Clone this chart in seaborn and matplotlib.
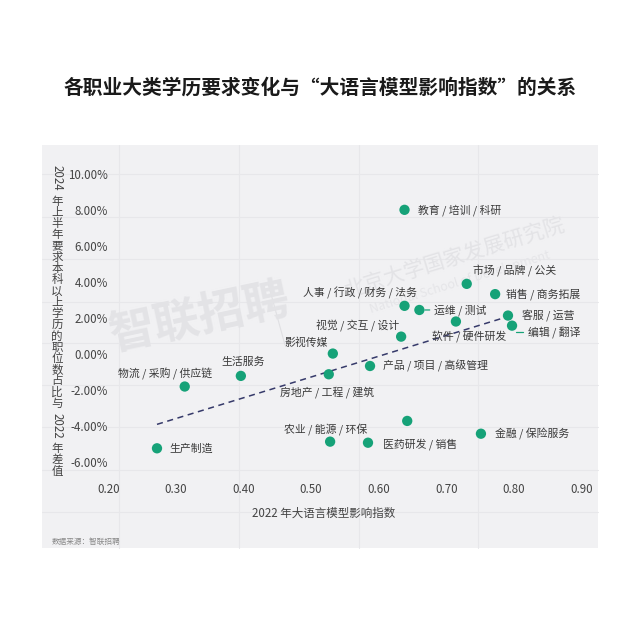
import numpy as np
import pandas as pd
import seaborn as sns
import matplotlib.pyplot as plt
from matplotlib.patches import Rectangle
from matplotlib.lines import Line2D
from matplotlib.ticker import FuncFormatter

# occupation categories, LLM impact index (2022) and change in degree share (pct points)
occupations = ["教育 / 培训 / 科研", "市场 / 品牌 / 公关", "销售 / 商务拓展", "人事 / 行政 / 财务 / 法务",
               "运维 / 测试", "软件 / 硬件研发", "客服 / 运营", "编辑 / 翻译", "视觉 / 交互 / 设计",
               "影视传媒", "房地产 / 工程 / 建筑", "产品 / 项目 / 高级管理", "生活服务", "物流 / 采购 / 供应链",
               "生产制造", "农业 / 能源 / 环保", "医药研发 / 销售", "", "金融 / 保险服务"]
llm_index = [0.638, 0.730, 0.772, 0.638, 0.660, 0.714, 0.791, 0.797, 0.633,
             0.532, 0.526, 0.587, 0.396, 0.313, 0.272, 0.528, 0.584, 0.642, 0.751]
degree_change = [8.00, 3.89, 3.32, 2.67, 2.44, 1.80, 2.13, 1.57, 0.96,
                 0.02, -1.13, -0.67, -1.22, -1.81, -5.24, -4.87, -4.93, -3.72, -4.43]
x_ticks = [0.2, 0.3, 0.4, 0.5, 0.6, 0.7, 0.8, 0.9]
y_ticks = [-6, -4, -2, 0, 2, 4, 6, 8, 10]

df = pd.DataFrame({"job": occupations, "x": llm_index, "y": degree_change})

# label placement: (dx px, dy px up, ha, connector)
label_pos = {
    "教育 / 培训 / 科研": (13, 0, "left", None),
    "市场 / 品牌 / 公关": (6, 13, "left", None),
    "销售 / 商务拓展": (11, 0, "left", None),
    "人事 / 行政 / 财务 / 法务": (12, 13, "right", None),
    "运维 / 测试": (15, 0, "left", "line"),
    "软件 / 硬件研发": (13, -15, "center", None),
    "客服 / 运营": (14, 0, "left", None),
    "编辑 / 翻译": (16, -6, "left", "elbow"),
    "视觉 / 交互 / 设计": (-2, 11, "right", None),
    "影视传媒": (-5, 11, "right", None),
    "房地产 / 工程 / 建筑": (-2, -18, "center", None),
    "产品 / 项目 / 高级管理": (13, 0, "left", None),
    "生活服务": (2, 14, "center", None),
    "物流 / 采购 / 供应链": (27, 13, "right", None),
    "生产制造": (12, 0, "left", None),
    "农业 / 能源 / 环保": (-4, 13, "center", None),
    "医药研发 / 销售": (15, -1, "left", None),
    "金融 / 保险服务": (14, 0, "left", None),
}

sns.set_theme(style="white")
plt.rcParams["font.family"] = ["Noto Sans CJK SC", "DejaVu Sans"]

green = "#16a278"
panel = "#f1f1f3"
W, H = 640, 640

fig = plt.figure(figsize=(6.4, 6.4), dpi=100)
fig.patch.set_facecolor("white")

def fx(px):
    return px / W

def fy(py):
    return 1 - py / H

# grey panel with faint background grid
fig.patches.append(Rectangle((fx(42), fy(548)), fx(598) - fx(42), fy(145) - fy(548),
                             transform=fig.transFigure, facecolor=panel, edgecolor="none", zorder=0))
for gx in [119, 239, 359, 478]:
    fig.lines.append(Line2D([fx(gx), fx(gx)], [fy(145), fy(548)], transform=fig.transFigure,
                            color="#e7e7ea", lw=0.8, zorder=0.5))
for gy in [174, 217, 259, 302, 343, 385, 427, 470, 512]:
    fig.lines.append(Line2D([fx(42), fx(598)], [fy(gy), fy(gy)], transform=fig.transFigure,
                            color="#e7e7ea", lw=0.8, zorder=0.5))

# watermarks
fig.text(fx(200), fy(318), "智联招聘", fontsize=33, fontweight="bold", color="#e3e3e6",
         rotation=12, ha="center", va="center", zorder=0.6)
fig.lines.append(Line2D([fx(268), fx(285)], [fy(283), fy(345)], transform=fig.transFigure,
                        color="#e0e0e3", lw=0.8, zorder=0.6))
fig.text(fx(455), fy(258), "北京大学国家发展研究院", fontsize=15, color="#e3e3e6",
         rotation=17, ha="center", va="center", zorder=0.6)
fig.text(fx(460), fy(282), "National School of Development", fontsize=9, color="#e5e5e8",
         rotation=17, ha="center", va="center", zorder=0.6)

ax = fig.add_axes([fx(108.3), fy(472.8), fx(581.7) - fx(108.3), fy(163) - fy(472.8)])
ax.set_facecolor("none")
ax.set_zorder(2)

sns.regplot(data=df, x="x", y="y", scatter=False, ci=None, truncate=True, ax=ax,
            line_kws=dict(color="#363a6a", lw=1.1, ls=(0, (4, 3))))
sns.scatterplot(data=df, x="x", y="y", color=green, s=55, edgecolor="none", ax=ax, zorder=3)

for _, r in df.iterrows():
    if r["job"] not in label_pos:
        continue
    dx, dy, ha, conn = label_pos[r["job"]]
    arrow = None
    if conn == "line":
        arrow = dict(arrowstyle="-", color=green, lw=0.9, shrinkA=1, shrinkB=4)
    elif conn == "elbow":
        arrow = dict(arrowstyle="-", color=green, lw=0.9, shrinkA=1, shrinkB=5,
                     connectionstyle="angle,angleA=0,angleB=90,rad=0")
    ax.annotate(r["job"], (r["x"], r["y"]), xytext=(dx, dy), textcoords="offset pixels",
                ha=ha, va="center", fontsize=7.8, color="#3a3a3a", arrowprops=arrow, zorder=4)

ax.set_xlim(0.2, 0.9)
ax.set_ylim(-6.6, 10.6)
ax.set_xticks(x_ticks)
ax.set_yticks(y_ticks)
ax.xaxis.set_major_formatter(FuncFormatter(lambda v, p: f"{v:.2f}"))
ax.yaxis.set_major_formatter(FuncFormatter(lambda v, p: f"{v:.2f}%"))
ax.tick_params(axis="both", length=0, labelsize=8.3, colors="#444444")
ax.tick_params(axis="x", pad=7)
ax.tick_params(axis="y", pad=0)
for s in ax.spines.values():
    s.set_visible(False)
ax.set_xlabel("")
ax.set_ylabel("")

fig.text(fx(324), fy(513), "2022 年大语言模型影响指数", fontsize=8.3, color="#444444",
         ha="center", va="center")

# vertical y label: digits rotated, CJK characters stacked upright
fig.canvas.draw()
renderer = fig.canvas.get_renderer()
segments = ["2024", "年上半年要求本科以上学历的职位数占比与", "2022", "年差值"]
step = 10.7
cursor = 165
xc = fx(57)
for seg in segments:
    if seg.isdigit():
        t = fig.text(xc, fy(cursor), seg, rotation=-90, fontsize=8.3, color="#444444",
                     ha="center", va="top")
        bb = t.get_window_extent(renderer)
        cursor += bb.height + 4
    else:
        # calibrate line spacing so each character advances by `step` pixels
        probe = fig.text(0, 0, "年\n年", fontsize=8.3, linespacing=1.0)
        one = fig.text(0, 0, "年", fontsize=8.3)
        adv = probe.get_window_extent(renderer).height - one.get_window_extent(renderer).height
        probe.remove()
        one.remove()
        t = fig.text(xc, fy(cursor), "\n".join(seg), fontsize=8.3, color="#444444",
                     ha="center", va="top", multialignment="center", linespacing=step / adv)
        cursor += t.get_window_extent(renderer).height + 3

fig.text(0.5, fy(88), "各职业大类学历要求变化与“大语言模型影响指数”的关系", fontsize=14.2,
         fontweight="bold", color="#1a1a1a", ha="center", va="center")
fig.text(fx(52), fy(542), "数据来源：智联招聘", fontsize=5.5, color="#888888", ha="left", va="center")

fig.savefig("out.png", dpi=100, facecolor="white")
